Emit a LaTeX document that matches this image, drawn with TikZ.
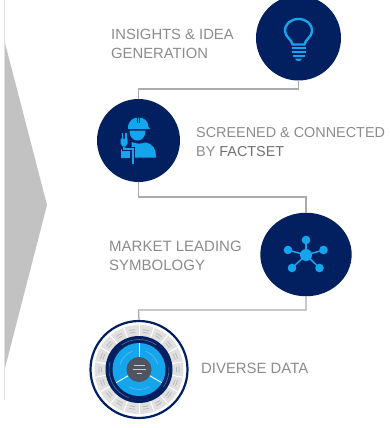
\documentclass[tikz,border=0pt]{standalone}
\usepackage{fontspec}
\setmainfont{Liberation Sans}
\definecolor{navy}{HTML}{02205F}
\definecolor{sky}{HTML}{14A5EC}
\definecolor{linegray}{HTML}{ABABAB}
\definecolor{txtgray}{HTML}{8C8C8C}
\definecolor{arrowgray}{HTML}{C2C2C2}
\definecolor{ringgray}{HTML}{E0E0E0}
\definecolor{hubgray}{HTML}{4F5560}
\tikzset{
  disc/.style={circle,fill=navy,minimum size=#1,inner sep=0pt},
  link/.style={draw=linegray,line width=1.3pt},
  lbl/.style={font=\fontsize{#1}{19}\selectfont,text=txtgray,align=left,anchor=west,inner sep=0pt},
  icon/.style={fill=sky,draw=none},
  iconline/.style={draw=sky,line width=2.4pt},
}
\begin{document}
\begin{tikzpicture}[x=1pt,y=-1pt]
\useasboundingbox (0,0) rectangle (389,428);
\fill[white] (0,0) rectangle (389,428);
\fill[arrowgray] (5,43) -- (47,205) -- (5,368) -- cycle;
\draw[draw=ringgray,line width=1.4pt] (4.5,0) -- (4.5,400);
\node[disc=85pt] (n1) at (298.5,38) {};
\node[disc=83pt] (n2) at (138.5,140.5) {};
\node[disc=87pt,xscale=1.05,yscale=0.96] (n3) at (306,254.5) {};
\node[disc=97pt,fill=white,draw=navy,line width=2.2pt] (n4) at (139,369.5) {};
\coordinate (a1) at (298.5,89);
\coordinate (a2) at (138.5,89);
\coordinate (b1) at (138.5,197);
\coordinate (b2) at (306,197);
\coordinate (c1) at (306,310);
\coordinate (c2) at (138.5,310);
\draw[link] (n1.south) -- (a1) -- (a2) -- (n2.north);
\draw[link] (n2.south) -- (b1) -- (b2) -- (n3.north);
\draw[link] (n3.south) -- (c1) -- (c2) -- (n4.north);
% labels
\node[lbl=14.8] (t1) at (111,44) {INSIGHTS \& IDEA\\GENERATION};
\node[lbl=14.4] (t2) at (196,142) {SCREENED \& CONNECTED\\BY {\color{txtgray!80!black}FACTSET}};
\node[lbl=15] (t3) at (109,255.5) {MARKET LEADING\\SYMBOLOGY};
\node[lbl=14.9] (t4) at (201,368) {DIVERSE DATA};
% bulb
\begin{scope}[shift={(298.5,38)}]
  \draw[iconline] (-6,6.5) .. controls (-6.5,1.5) and (-13.5,-1) .. (-13.5,-7) .. controls (-13.5,-14.5) and (-7.5,-19) .. (0,-19) .. controls (7.5,-19) and (13.5,-14.5) .. (13.5,-7) .. controls (13.5,-1) and (6.5,1.5) .. (6,6.5) -- cycle;
  \fill[icon] (-7,9) rectangle (7,11.4);
  \fill[icon] (-7,13) rectangle (7,15.4);
  \fill[icon] (-6,17) rectangle (6,19.4);
  \fill[icon] (-3.5,20.6) -- (3.5,20.6) -- (1.5,23) -- (-1.5,23) -- cycle;
\end{scope}
% worker
\begin{scope}[shift={(138.5,140.5)}]
  \fill[icon] (-10.5,-12.5) .. controls (-10.5,-20) and (-5,-23) .. (0,-23) .. controls (5,-23) and (10,-20) .. (10,-13.5) -- (11.5,-11.5) -- (-10.5,-11.5) -- cycle;
  \draw[navy,line width=0.9pt] (-1.4,-23.5) -- (-1.4,-18) (1.4,-23.5) -- (1.4,-18);
  \fill[icon] (-9,-9.8) -- (7,-9.8) .. controls (7,-3) and (3,0) .. (-1,0) .. controls (-5,0) and (-9,-3) .. (-9,-9.8) -- cycle;
  \fill[icon] (-7,1.5) .. controls (-2,3.5) and (3,3.5) .. (7,2) .. controls (14,3) and (17.5,8) .. (17.5,17) -- (-7,17) -- cycle;
  \fill[icon] (-18,-2) -- (-11,-2) -- (-11,3) -- (-13,6) -- (-16,6) -- (-18,3) -- cycle;
  \fill[icon] (-17,-7.5) rectangle (-15.4,-2);
  \fill[icon] (-13.6,-7.5) rectangle (-12,-2);
  \fill[icon] (-18,8) -- (-9,8) -- (-9,17) -- (-18,17) -- cycle;
  \draw[navy,line width=3.4pt] (-14.5,6) -- (-14.5,8.5) -- (-5.5,8.5) -- (-5.5,24);
  \draw[sky,line width=1.5pt] (-14.5,6) -- (-14.5,8.5) -- (-5.5,8.5) -- (-5.5,23);
\end{scope}
% network
\begin{scope}[shift={(306,255)}]
  \foreach \px/\py in {0/-15,-18/-5,17.5/-5,-14/13,13.5/13} {
    \draw[sky,line width=1.5pt] (0,0) -- (\px,\py);
    \fill[icon] (\px,\py) circle (4.3);
  }
  \fill[icon] (0,0) circle (6);
\end{scope}
% data wheel
\begin{scope}[shift={(139,369.5)}]
  \fill[ringgray] (0,0) circle (44.5);
  \foreach \i in {0,...,17} {
    \draw[white,line width=1pt] (\i*20+10:33) -- (\i*20+10:44.5);
    \foreach \r in {37.5,40} {
      \draw[gray!55,line width=0.8pt] (\i*20+20-4.5:\r) arc (\i*20+20-4.5:\i*20+20+4.5:\r);
    }
  }
  \fill[navy] (0,0) circle (33.5);
  \fill[sky] (0,0) circle (26.5);
  \foreach \a in {-90,30,150} { \draw[white,line width=0.9pt] (0,0) -- (\a:26.5); }
  \draw[white!35!navy,line width=0.6pt] (-125:30) arc (-125:-55:30);
  \draw[white!35!navy,line width=0.6pt] (110:30) arc (110:195:30);
  \draw[white!35!navy,line width=0.6pt] (-5:30) arc (-5:35:30);
  \draw[white!30!sky,line width=0.6pt] (-165:19.5) arc (-165:-110:19.5);
  \draw[white!30!sky,line width=0.6pt] (-70:19.5) arc (-70:-15:19.5);
  \draw[white!30!sky,line width=0.6pt] (60:20) arc (60:120:20);
  \fill[hubgray] (0,0) circle (12.5);
  \draw[white!70!hubgray,line width=0.8pt] (-5.5,-4) -- (5.5,-4) (-6.5,0) -- (6.5,0) (-2.5,4) -- (2.5,4);
\end{scope}
\end{tikzpicture}
\end{document}
